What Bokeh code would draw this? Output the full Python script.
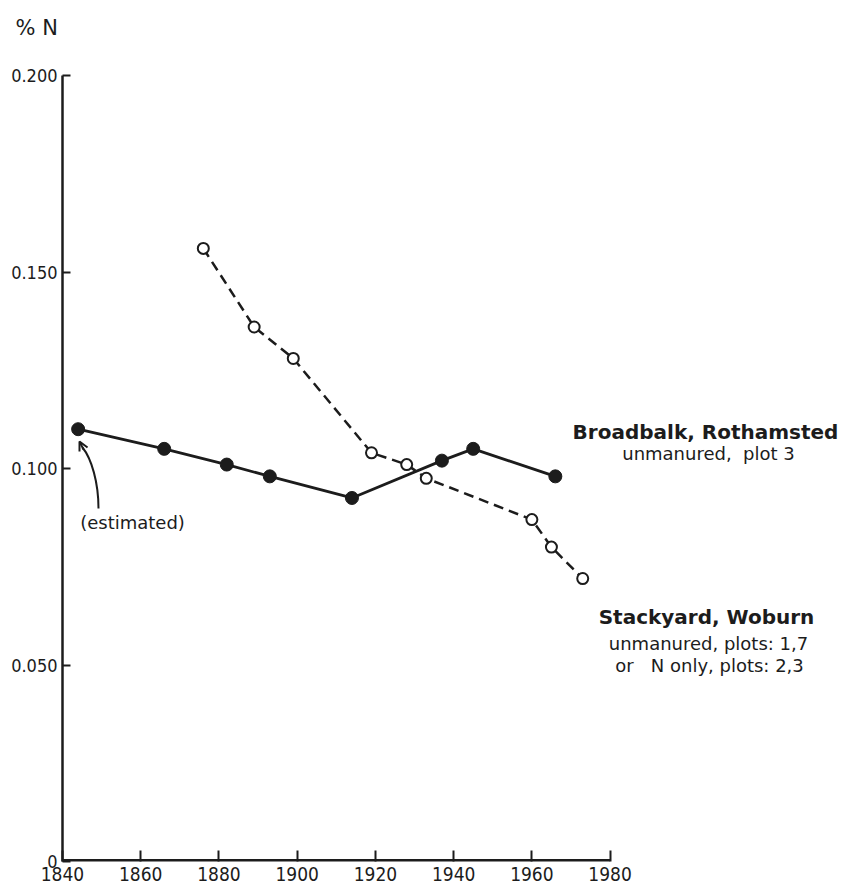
from bokeh.plotting import figure
from bokeh.models import Range1d, Label, Arrow, OpenHead, FixedTicker, Title
from bokeh.embed import file_html
from bokeh.resources import INLINE

# ---- data ----
broad_years = [1844, 1866, 1882, 1893, 1914, 1937, 1945, 1966]
broad_n = [0.110, 0.105, 0.101, 0.098, 0.0925, 0.102, 0.105, 0.098]

stack_years = [1876, 1889, 1899, 1919, 1928, 1933, 1960, 1965, 1973]
stack_n = [0.156, 0.136, 0.128, 0.104, 0.101, 0.0975, 0.087, 0.080, 0.072]

x_ticks = [1840, 1860, 1880, 1900, 1920, 1940, 1960, 1980]
y_ticks = [0, 0.05, 0.10, 0.15, 0.20]
y_tick_labels = ["0", "0.050", "0.100", "0.150", "0.200"]

INK = "#1c1c1c"
FONT = "DejaVu Sans"
TICK_FONT = "'DejaVu Sans Condensed', 'DejaVu Sans'"
NB = "\u00a0"

W, H = 843, 888
BL, BR, BT, BB = 62, 0, 75, 27
X0, XAX_END = 1840, 1980
Y0, Y1 = 0.0, 0.200
fw = W - BL - BR
fh = H - BT - BB
PX_PER_YEAR = 547.6 / 140.0
X1 = X0 + fw / PX_PER_YEAR   # frame extends right so the side labels fit

p = figure(width=W, height=H, output_backend="svg", toolbar_location=None,
           x_range=Range1d(X0, X1), y_range=Range1d(Y0, Y1),
           min_border_left=BL, min_border_right=BR,
           min_border_top=BT, min_border_bottom=BB)
p.outline_line_color = None
p.grid.visible = False
p.background_fill_color = "white"
p.border_fill_color = "white"


def at(px, py):
    """pixel position -> data coordinates (for annotation placement)"""
    x = X0 + (px - BL) / fw * (X1 - X0)
    y = Y0 + (BT + fh - py) / fh * (Y1 - Y0)
    return x, y


# axes styling
for ax in (p.xaxis[0], p.yaxis[0]):
    ax.axis_line_color = INK
    ax.axis_line_width = 2.5
    ax.major_tick_line_color = INK
    ax.major_tick_line_width = 2
    ax.minor_tick_line_color = None
    ax.major_tick_out = 0
    ax.major_label_text_font = TICK_FONT
    ax.major_label_text_color = INK

p.xaxis.axis_line_color = None   # x axis line stops at 1980 (drawn below)
p.xaxis.ticker = FixedTicker(ticks=x_ticks)
p.xaxis.major_tick_in = 11
p.xaxis.major_label_text_font_size = "19px"
p.xaxis.major_label_standoff = 5

p.yaxis.ticker = FixedTicker(ticks=y_ticks)
p.yaxis.major_tick_in = 8
p.yaxis.major_label_text_font_size = "18px"
p.yaxis.major_label_standoff = 5
p.yaxis.major_label_overrides = {t: s for t, s in zip(y_ticks, y_tick_labels)}

# x axis line from 1840 to 1980 (half of it clipped by the frame edge)
p.segment(x0=[X0], y0=[Y0], x1=[XAX_END], y1=[Y0], line_color=INK,
          line_width=5)

# "% N" unit label above the axis (blank second line lifts it upward)
p.add_layout(Title(text="% N\n" + NB, align="left", offset=-47, standoff=23,
                   text_font=FONT, text_font_size="21px",
                   text_font_style="normal", text_color=INK), "above")

# series
p.line(stack_years, stack_n, line_color=INK, line_width=2.5, line_dash="10 6")
p.scatter(stack_years, stack_n, marker="circle", size=11, fill_color="white",
          line_color=INK, line_width=2)

p.line(broad_years, broad_n, line_color=INK, line_width=2.8)
p.scatter(broad_years, broad_n, marker="circle", size=13, fill_color=INK,
          line_color=INK)


def label(text, px, py, size, bold=False):
    x, y = at(px, py)
    p.add_layout(Label(x=x, y=y, text=text, text_font=FONT,
                       text_font_size=f"{size}px",
                       text_font_style="bold" if bold else "normal",
                       text_color=INK, text_align="center",
                       text_baseline="middle"))


label("Broadbalk, Rothamsted", 705, 431, 20, bold=True)
label("unmanured," + NB + NB + "plot 3", 708, 453, 18)
label("Stackyard, Woburn", 706, 616, 20, bold=True)
label("unmanured, plots: 1,7", 708, 643, 18)
label("or" + NB + NB + NB + "N only, plots: 2,3", 709, 665, 18)
label("(estimated)", 132, 522, 18)

# curved arrow to the estimated first point
sx, sy = at(98, 508)
ex, ey = at(82, 447)
c0x, c0y = at(98, 482)
c1x, c1y = at(91, 458)
p.bezier(x0=[sx], y0=[sy], x1=[ex], y1=[ey], cx0=[c0x], cy0=[c0y],
         cx1=[c1x], cy1=[c1y], line_color=INK, line_width=2)
ax0, ay0 = at(83, 449)
ax1, ay1 = at(79, 441)
p.add_layout(Arrow(end=OpenHead(size=9, line_color=INK, line_width=2),
                   x_start=ax0, y_start=ay0, x_end=ax1, y_end=ay1,
                   line_color=INK, line_width=2))

open("out.html", "w").write(file_html(p, INLINE))
